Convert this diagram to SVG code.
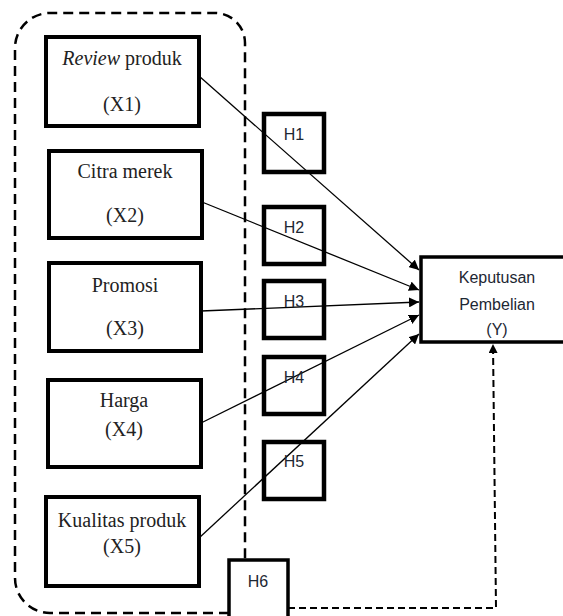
<svg xmlns="http://www.w3.org/2000/svg" width="563" height="616" viewBox="0 0 563 616">
<style>
.box{fill:#fff;stroke:#000;stroke-width:4}
.hbox{fill:#fff;stroke:#000;stroke-width:4.5}
.ser{font-family:"Liberation Serif","Times New Roman",serif;font-size:20px;fill:#222;text-anchor:middle}
.san{font-family:"Liberation Sans",Arial,sans-serif;font-size:16px;fill:#1d2733;text-anchor:middle}
.con{stroke:#000;stroke-width:1.3;fill:none;marker-end:url(#ah)}
.dash{stroke:#000;stroke-width:2.5;fill:none;stroke-dasharray:10 6}
</style>
<defs>
<marker id="ah" viewBox="0 0 10 10" refX="10" refY="5" markerWidth="10" markerHeight="10" markerUnits="userSpaceOnUse" orient="auto">
<path d="M0,0 L10,5 L0,10 z" fill="#000"/>
</marker>
<marker id="ah2" viewBox="0 0 10 10" refX="10" refY="5" markerWidth="9" markerHeight="9" markerUnits="userSpaceOnUse" orient="auto">
<path d="M0,0 L10,5 L0,10 z" fill="#000"/>
</marker>
</defs>
<path id="group-border" class="dash" d="M229,613 H50 A35,35 0 0 1 15,578 V48 A35,35 0 0 1 50,13 H215 A30,30 0 0 1 245,43 V560"/>
<g id="connectors">
<line class="con" x1="199" y1="76" x2="419" y2="270"/>
<line class="con" x1="202" y1="202" x2="419" y2="290"/>
<line class="con" x1="201" y1="311" x2="419" y2="302"/>
<line class="con" x1="201" y1="423" x2="419" y2="315"/>
<line class="con" x1="199" y1="538" x2="419" y2="334"/>
<polyline fill="none" stroke="#000" stroke-width="2" stroke-dasharray="7 4" marker-end="url(#ah2)" points="288,608 496,608 493,344"/>
</g>
<g id="X1"><rect class="box" x="46" y="37" width="153" height="89"/>
<text class="ser" x="122" y="65"><tspan font-style="italic">Review</tspan> produk</text>
<text class="ser" x="122" y="111">(X1)</text></g>
<g id="X2"><rect class="box" x="49" y="151" width="153" height="87"/>
<text class="ser" x="125" y="178">Citra merek</text>
<text class="ser" x="125" y="222">(X2)</text></g>
<g id="X3"><rect class="box" x="49" y="263" width="152" height="88"/>
<text class="ser" x="125" y="292">Promosi</text>
<text class="ser" x="125" y="335">(X3)</text></g>
<g id="X4"><rect class="box" x="48" y="380" width="153" height="87"/>
<text class="ser" x="124" y="407">Harga</text>
<text class="ser" x="124" y="436">(X4)</text></g>
<g id="X5"><rect class="box" x="46" y="497" width="153" height="89"/>
<text class="ser" x="122" y="527" font-size="18">Kualitas produk</text>
<text class="ser" x="122" y="553" font-size="18">(X5)</text></g>
<g id="H1"><rect class="hbox" x="264" y="114" width="60" height="58" fill-opacity="0"/><text class="san" x="294" y="140">H1</text></g>
<g id="H2"><rect class="hbox" x="264" y="207" width="60" height="57" fill-opacity="0"/><text class="san" x="294" y="233">H2</text></g>
<g id="H3"><rect class="hbox" x="264" y="281" width="60" height="57" fill-opacity="0"/><text class="san" x="294" y="307">H3</text></g>
<g id="H4"><rect class="hbox" x="264" y="357" width="60" height="57" fill-opacity="0"/><text class="san" x="294" y="383">H4</text></g>
<g id="H5"><rect class="hbox" x="264" y="442" width="60" height="57" fill-opacity="0"/><text class="san" x="294" y="467">H5</text></g>
<g id="H6"><rect fill="#fff" stroke="#000" stroke-width="3.5" x="229" y="560" width="59" height="70"/><text class="san" x="258" y="587">H6</text></g>
<g id="Y"><rect fill="#fff" stroke="#000" stroke-width="3.5" x="421" y="257" width="160" height="85"/>
<text class="san" x="497" y="283">Keputusan</text>
<text class="san" x="497" y="310">Pembelian</text>
<text class="san" x="497" y="335">(Y)</text></g>
</svg>
